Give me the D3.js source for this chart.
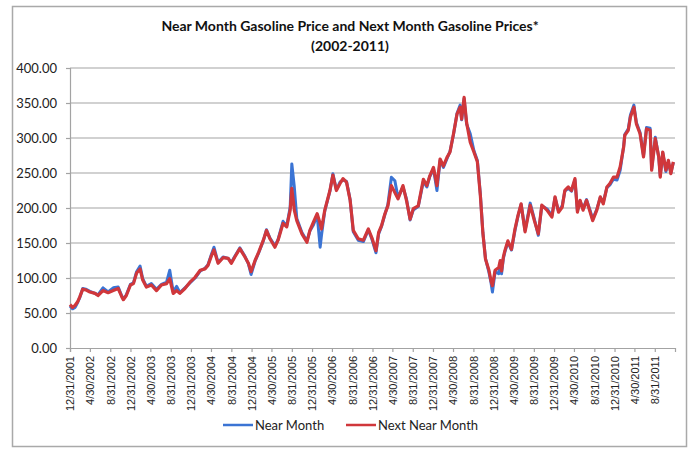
<!DOCTYPE html>
<html>
<head>
<meta charset="utf-8">
<script src="https://cdn.jsdelivr.net/npm/d3@7"></script>
<style>
    body{ margin:0; background:#fff; }
</style>
</head>
<body>
<div class="chart"></div>
<script>
var dates = [
    "2001-12-31","2002-01-15","2002-01-31","2002-02-15","2002-02-28","2002-03-18","2002-04-05","2002-04-30","2002-05-31","2002-06-18","2002-07-18","2002-08-18","2002-09-18","2002-10-18","2002-11-09","2002-11-18","2002-12-06","2002-12-31",
    "2003-01-18","2003-02-06","2003-02-27","2003-03-15","2003-04-06","2003-05-06","2003-06-06","2003-07-06","2003-08-06","2003-08-25","2003-09-15","2003-10-06","2003-10-25","2003-11-25","2003-12-25",
    "2004-01-25","2004-02-25","2004-03-25","2004-04-12","2004-05-03","2004-05-18","2004-06-12","2004-07-12","2004-08-12","2004-08-31","2004-09-21","2004-10-21","2004-11-21","2004-12-12","2004-12-28",
    "2005-01-21","2005-02-12","2005-03-12","2005-03-31","2005-04-21","2005-05-21","2005-06-09","2005-07-09","2005-07-31","2005-08-21","2005-08-31","2005-09-15","2005-09-30","2005-10-31","2005-11-30","2005-12-18",
    "2006-01-09","2006-01-31","2006-02-18","2006-02-26","2006-03-18","2006-04-18","2006-05-06","2006-05-27","2006-06-18","2006-07-06","2006-07-27","2006-08-18","2006-09-06","2006-10-06","2006-11-06","2006-12-06","2006-12-28",
    "2007-01-21","2007-02-06","2007-02-24","2007-03-15","2007-04-03","2007-04-24","2007-05-15","2007-06-03","2007-07-03","2007-07-24","2007-08-15","2007-09-03","2007-10-03","2007-11-03","2007-11-24","2007-12-12",
    "2008-01-03","2008-01-24","2008-02-12","2008-03-03","2008-03-24","2008-04-12","2008-05-03","2008-05-24","2008-06-12","2008-06-21","2008-07-06","2008-07-21","2008-08-12","2008-09-03","2008-09-24","2008-10-12","2008-10-27","2008-11-12","2008-12-03","2008-12-15","2008-12-24",
    "2009-01-09","2009-01-31","2009-02-09","2009-02-17","2009-02-28","2009-03-09","2009-03-27","2009-04-18","2009-05-09","2009-05-27","2009-06-15","2009-07-09","2009-08-09","2009-09-03","2009-09-27","2009-10-18","2009-11-18","2009-12-18",
    "2010-01-06","2010-01-27","2010-02-18","2010-03-06","2010-03-27","2010-04-15","2010-05-06","2010-05-21","2010-06-06","2010-06-24","2010-07-15","2010-08-06","2010-08-21","2010-09-15","2010-10-06","2010-10-24","2010-11-15","2010-12-03","2010-12-24",
    "2011-01-15","2011-02-03","2011-02-24","2011-03-03","2011-03-24","2011-04-06","2011-04-27","2011-05-12","2011-06-03","2011-06-24","2011-07-12","2011-08-03","2011-08-12","2011-09-03","2011-09-24","2011-10-03","2011-10-18","2011-11-06","2011-11-21","2011-12-06","2011-12-21"
];

// blue series
var nearMonth = [
    60,56,58,65,72,85,84,81,78,76,86,80,86,87,74,70,76,91,
    93,109,117,99,88,92,84,91,94,111,80,88,79,86,93,
    100,110,114,119,134,144,122,130,128,122,131,143,131,120,105,
    124,136,153,169,157,146,155,181,174,201,263,230,185,165,153,167,
    176,190,144,161,196,224,249,226,237,240,238,212,166,154,152,169,155,
    136,163,174,190,205,244,239,215,230,213,183,197,202,238,230,245,
    256,225,268,258,270,281,305,335,347,326,356,320,306,282,268,220,166,128,108,94,80,
    109,106,122,106,128,137,151,140,168,188,205,168,207,184,161,203,199,189,
    215,195,203,224,228,224,240,196,210,199,212,196,184,198,215,208,229,233,241,
    240,254,288,305,313,333,347,322,308,275,315,314,256,301,272,246,279,252,266,250,265
];

// red series
var nextNearMonth = [
    62,58,61,66,73,84,83,80,78,75,82,79,82,85,73,69,75,90,
    92,107,113,97,87,90,82,90,92,99,78,82,78,85,94,
    101,111,113,118,132,140,121,129,128,121,130,142,130,121,109,
    125,137,154,168,156,144,154,178,173,197,228,197,182,163,151,168,
    180,192,178,170,197,225,247,225,235,242,237,211,168,156,154,170,157,
    139,165,175,191,203,232,222,213,232,211,184,199,203,241,232,246,
    258,232,270,260,272,280,306,334,344,327,358,322,294,280,266,218,165,127,111,96,89,
    111,115,125,110,130,139,153,141,170,189,206,166,204,182,163,204,197,187,
    216,194,201,225,230,225,242,194,211,197,211,194,182,197,216,206,230,235,244,
    244,259,287,304,311,330,344,320,306,273,313,311,254,299,273,244,280,254,268,249,266
];

var tickLabels = [
    "12/31/2001","4/30/2002","8/31/2002","12/31/2002","4/30/2003","8/31/2003","12/31/2003",
    "4/30/2004","8/31/2004","12/31/2004","4/30/2005","8/31/2005","12/31/2005","4/30/2006",
    "8/31/2006","12/31/2006","4/30/2007","8/31/2007","12/31/2007","4/30/2008","8/31/2008",
    "12/31/2008","4/30/2009","8/31/2009","12/31/2009","4/30/2010","8/31/2010","12/31/2010",
    "4/30/2011","8/31/2011"
];

var yTicks = [0, 50, 100, 150, 200, 250, 300, 350, 400];

var seriesNames = ["Near Month", "Next Near Month"];
var seriesColors = ["#3b74d4", "#d0373b"];

function init(){
    var w = 695;
    var h = 453;
    var left = 70, right = 675, top = 68, bottom = 348;

    var parseDate = d3.timeParse("%Y-%m-%d");
    var parseTick = d3.timeParse("%m/%d/%Y");

    var rows = dates.map(function(d, i){
        return {date: parseDate(d), near: nearMonth[i], next: nextNearMonth[i]};
    });
    var tickDates = tickLabels.map(function(d){ return parseTick(d); });

    var xScale = d3.scaleTime()
                    .domain([parseTick("12/31/2001"), parseTick("12/31/2011")])
                    .range([left, right]);

    var yScale = d3.scaleLinear()
                    .domain([0, 400])
                    .range([bottom, top]);

    var svg = d3.select(".chart")
                .append("svg")
                .attr("width", w)
                .attr("height", h);

    //outer frame
    svg.append("rect")
        .attr("x", 12.5)
        .attr("y", 6.5)
        .attr("width", 674)
        .attr("height", 440)
        .attr("fill", "white")
        .attr("stroke", "#a9a9a9")
        .attr("stroke-width", 1.5);

    //title
    var title = svg.append("text")
        .attr("text-anchor", "middle")
        .attr("font-family", "Lato")
        .attr("font-weight", "bold")
        .attr("font-size", "14px")
        .attr("fill", "#111");
    title.append("tspan").attr("x", 350).attr("y", 31)
        .text("Near Month Gasoline Price and Next Month Gasoline Prices*");
    title.append("tspan").attr("x", 350).attr("y", 50.5)
        .text("(2002-2011)");

    //gridlines
    svg.append("g")
        .selectAll("line")
        .data(yTicks.slice(1))
        .enter()
        .append("line")
        .attr("x1", left)
        .attr("x2", right)
        .attr("y1", function(d){ return yScale(d); })
        .attr("y2", function(d){ return yScale(d); })
        .attr("stroke", "#a3a3a3")
        .attr("stroke-width", 1.2);

    var yAxis = d3.axisLeft(yScale)
                .tickValues(yTicks)
                .tickSize(4)
                .tickPadding(9)
                .tickFormat(d3.format(".2f"));

    var gy = svg.append("g")
        .attr("transform", "translate(" + left + ",0)")
        .call(yAxis);
    gy.selectAll("path, line").attr("stroke", "#a3a3a3").attr("stroke-width", 1.2);
    gy.selectAll("text")
        .style("font-family", "Lato")
        .style("font-size", "13px")
        .attr("fill", "#222");

    var xAxis = d3.axisBottom(xScale)
                .tickValues(tickDates)
                .tickSizeInner(4)
                .tickSizeOuter(4)
                .tickFormat(function(d, i){
                    return tickLabels[i];
                });

    var gx = svg.append("g")
        .attr("transform", "translate(0," + bottom + ")")
        .call(xAxis);
    gx.selectAll("path, line").attr("stroke", "#a3a3a3").attr("stroke-width", 1.2);
    gx.selectAll("text")
        .style("font-family", "Liberation Sans")
        .style("font-size", "11px")
        .attr("fill", "#222")
        .attr("text-anchor", "end")
        .attr("transform", "rotate(-90)")
        .attr("x", -8)
        .attr("y", 0)
        .attr("dy", "0.35em");

    var nearLine = d3.line()
                .x(function(d){ return xScale(d.date); })
                .y(function(d){ return yScale(d.near); });

    var nextLine = d3.line()
                .x(function(d){ return xScale(d.date); })
                .y(function(d){ return yScale(d.next); });

    svg.append("path")
        .datum(rows)
        .attr("d", nearLine)
        .attr("fill", "none")
        .attr("stroke", seriesColors[0])
        .attr("stroke-width", 3)
        .attr("stroke-linejoin", "round");

    svg.append("path")
        .datum(rows)
        .attr("d", nextLine)
        .attr("fill", "none")
        .attr("stroke", seriesColors[1])
        .attr("stroke-width", 3.2)
        .attr("stroke-linejoin", "round");

    //legend
    var legendX = [223, 346];
    var legend = svg.selectAll(".legend")
        .data(seriesNames)
        .enter()
        .append("g")
        .attr("transform", function(d, i){
            return "translate(" + legendX[i] + ",425)";
        });

    legend.append("line")
        .attr("x1", 0)
        .attr("x2", 30)
        .attr("stroke", function(d, i){ return seriesColors[i]; })
        .attr("stroke-width", 2.5);

    legend.append("text")
        .attr("x", 32)
        .attr("y", 5)
        .attr("font-family", "Lato")
        .attr("font-size", "13px")
        .attr("fill", "#222")
        .text(function(d){ return d; });
}

window.onload = init;
</script>
</body>
</html>
